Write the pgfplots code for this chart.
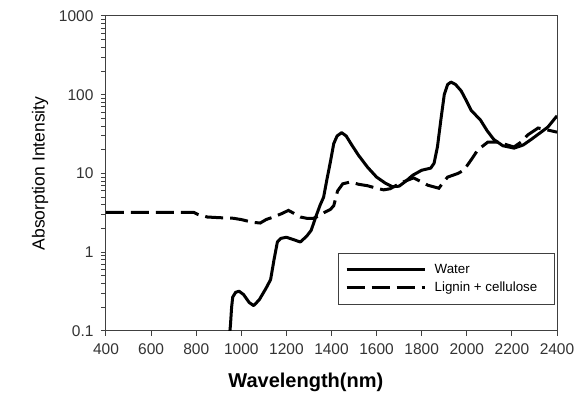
\documentclass[border=0pt]{standalone}
\usepackage{pgfplots}
\pgfplotsset{compat=1.18}
\usepackage{fontspec}
\setmainfont{Liberation Sans}
\begin{document}
\begin{tikzpicture}
\useasboundingbox (-63.6pt,-38.4pt) rectangle (284.4pt,198.6pt);
\begin{axis}[
  at={(0,0)}, anchor=south west,
  scale only axis, width=270.6pt, height=189pt,
  ymode=log, xmin=400, xmax=2400, ymin=0.1, ymax=1000,
  xtick={400,600,...,2400},
  ytick={0.1,1,10,100,1000},
  yticklabels={0.1,1,10,100,1000},
  minor ytick={}, minor tick num=0,
  log ticks with fixed point,
  /pgf/number format/assume math mode=true,
  /pgf/number format/1000 sep={},
  tick align=outside, tick pos=left,
  major tick length=3pt,
  axis line style={black!75, line width=0.6pt},
  tick style={black!75, line width=0.6pt},
  tick label style={font=\fontsize{9.3}{10}\selectfont, text=black!80},
  xticklabel style={yshift=-1pt},
  yticklabel style={xshift=-1pt},
  xlabel={Wavelength(nm)},
  ylabel={Absorption Intensity},
  xlabel style={font=\fontsize{12}{14}\selectfont\bfseries, at={(axis description cs:0.443,-0.162)}, anchor=center},
  ylabel style={font=\fontsize{10.5}{12}\selectfont, at={(axis description cs:-0.1463,0.5)}, anchor=center},
  clip=true,
  legend style={at={(0.996,0.082)}, anchor=south east, draw=black!75, line width=0.6pt,
    font=\fontsize{8}{9}\selectfont, inner xsep=4pt, inner ysep=4.5pt, row sep=-0.5pt},
  legend cell align=left,
  legend image code/.code={\draw[#1] (0pt,0pt) -- (47pt,0pt);},
]
\addplot[black, line width=1.8pt, line join=round] coordinates {
(948,0.09) (952,0.12) (957,0.2) (962,0.27) (975,0.31) (990,0.32) (1010,0.29)
(1035,0.23) (1055,0.21) (1080,0.25) (1110,0.35) (1130,0.45) (1145,0.8)
(1160,1.35) (1175,1.5) (1200,1.55) (1230,1.45) (1262,1.35) (1290,1.6)
(1310,1.9) (1330,2.8) (1350,4) (1365,5) (1380,8.5) (1395,14) (1410,24)
(1425,30) (1445,33) (1465,30) (1490,23) (1520,17) (1560,12) (1600,9)
(1640,7.5) (1670,6.8) (1700,6.9) (1730,8.0) (1760,9.5) (1800,11)
(1840,11.7) (1855,13.5) (1870,22) (1885,48) (1900,100) (1915,135)
(1930,145) (1950,135) (1975,112) (2000,82) (2020,63) (2060,48) (2090,35)
(2120,27) (2160,22.5) (2210,21) (2250,23) (2285,27) (2320,32) (2360,39)
(2400,54)
};
\addlegendentry{\hspace{3pt}\makebox[66pt][l]{Water}}
\addplot[black, line width=1.8pt, dash pattern=on 10.8pt off 4.2pt] coordinates {
(400,3.2) (790,3.2) (810,3.0) (830,2.9) (850,2.8) (900,2.75) (965,2.7)
(1000,2.6) (1050,2.4) (1084,2.35) (1110,2.6) (1142,2.8) (1180,3.1)
(1209,3.4) (1235,3.1) (1262,2.8) (1290,2.7) (1320,2.7) (1345,2.9)
(1364,3.15) (1395,3.5) (1410,3.9) (1427,6.0) (1450,7.4) (1484,7.8)
(1520,7.3) (1559,7.0) (1600,6.5) (1631,6.2) (1660,6.4) (1707,7.6)
(1764,8.8) (1800,7.8) (1827,7.1) (1876,6.5) (1900,8.0) (1915,9.0)
(1960,10) (1987,11) (2020,15) (2049,20) (2093,25) (2138,25) (2180,23)
(2209,21.7) (2240,25) (2271,31) (2316,37.8) (2360,35.6) (2400,33.5)
};
\addlegendentry{\hspace{3pt}\makebox[66pt][l]{Lignin + cellulose}}
\end{axis}
\end{tikzpicture}
\end{document}
